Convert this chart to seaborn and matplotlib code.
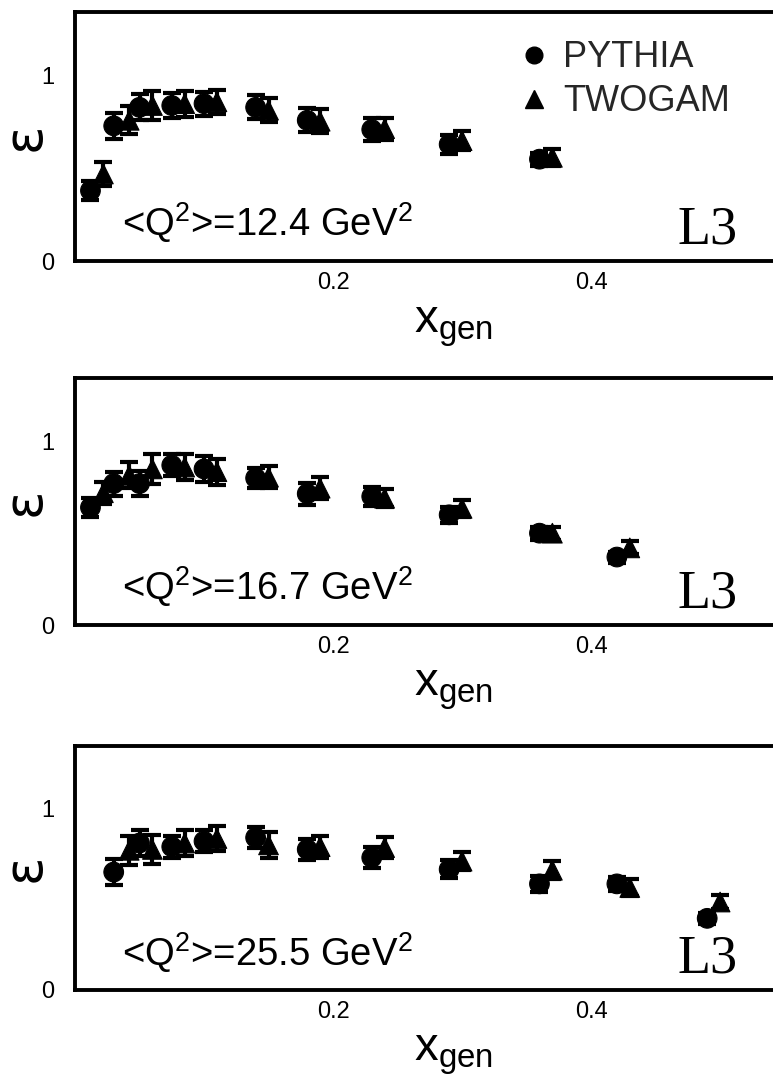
import numpy as np
import pandas as pd
import matplotlib
matplotlib.use("Agg")
import matplotlib.pyplot as plt
from matplotlib.ticker import MultipleLocator, FixedLocator
from matplotlib.lines import Line2D
import seaborn as sns

# ---------------- data ----------------
q2_labels = ["12.4", "16.7", "25.5"]

py_x1 = [0.012, 0.030, 0.050, 0.075, 0.100, 0.140, 0.180, 0.230, 0.290, 0.360]
py_y1 = [0.38, 0.73, 0.83, 0.84, 0.85, 0.83, 0.76, 0.71, 0.63, 0.55]
py_e1 = [0.05, 0.07, 0.07, 0.065, 0.065, 0.065, 0.065, 0.06, 0.05, 0.035]
tg_x1 = [0.022, 0.042, 0.060, 0.085, 0.110, 0.150, 0.190, 0.240, 0.300, 0.370]
tg_y1 = [0.47, 0.76, 0.84, 0.85, 0.86, 0.815, 0.755, 0.715, 0.65, 0.56]
tg_e1 = [0.065, 0.075, 0.08, 0.07, 0.065, 0.065, 0.065, 0.06, 0.05, 0.045]

py_x2 = [0.012, 0.030, 0.050, 0.075, 0.100, 0.140, 0.180, 0.230, 0.290, 0.360, 0.420]
py_y2 = [0.64, 0.77, 0.77, 0.87, 0.85, 0.80, 0.715, 0.70, 0.60, 0.50, 0.37]
py_e2 = [0.05, 0.065, 0.07, 0.06, 0.07, 0.055, 0.06, 0.05, 0.045, 0.035, 0.03]
tg_x2 = [0.022, 0.042, 0.060, 0.085, 0.110, 0.150, 0.190, 0.240, 0.300, 0.370, 0.430]
tg_y2 = [0.72, 0.815, 0.85, 0.86, 0.835, 0.805, 0.745, 0.69, 0.635, 0.50, 0.42]
tg_e2 = [0.06, 0.07, 0.08, 0.07, 0.07, 0.06, 0.06, 0.05, 0.045, 0.035, 0.035]

py_x3 = [0.030, 0.050, 0.075, 0.100, 0.140, 0.180, 0.230, 0.290, 0.360, 0.420, 0.490]
py_y3 = [0.65, 0.81, 0.79, 0.82, 0.84, 0.775, 0.73, 0.665, 0.585, 0.585, 0.395]
py_e3 = [0.07, 0.07, 0.06, 0.06, 0.06, 0.06, 0.06, 0.05, 0.045, 0.04, 0.03]
tg_x3 = [0.042, 0.060, 0.085, 0.110, 0.150, 0.190, 0.240, 0.300, 0.370, 0.430, 0.500]
tg_y3 = [0.77, 0.775, 0.81, 0.835, 0.80, 0.79, 0.785, 0.71, 0.66, 0.565, 0.485]
tg_e3 = [0.08, 0.08, 0.07, 0.07, 0.07, 0.06, 0.06, 0.05, 0.05, 0.045, 0.04]

x_ticks_major = [0.2, 0.4]
x_tick_labels = ["0.2", "0.4"]
y_ticks_major = [0, 1]
y_tick_labels = ["0", "1"]

panels = [
    (py_x1, py_y1, py_e1, tg_x1, tg_y1, tg_e1),
    (py_x2, py_y2, py_e2, tg_x2, tg_y2, tg_e2),
    (py_x3, py_y3, py_e3, tg_x3, tg_y3, tg_e3),
]

# ---------------- style ----------------
sns.set_theme(style="white")
plt.rcParams["font.family"] = ["Liberation Sans", "DejaVu Sans"]
plt.rcParams["mathtext.fontset"] = "custom"
plt.rcParams["mathtext.rm"] = "Liberation Sans"
plt.rcParams["mathtext.it"] = "Liberation Sans"
plt.rcParams["mathtext.bf"] = "Liberation Sans:bold"

W, H = 773, 1091
fig = plt.figure(figsize=(W / 100, H / 100), dpi=100)

# pixel boxes (top, bottom) for each panel
boxes = [(12, 261), (378, 625), (746, 990)]
left_px = 75

for i, ((px, py, pe, tx, ty, te), (top, bot)) in enumerate(zip(panels, boxes)):
    ax = fig.add_axes([left_px / W, 1 - bot / H, (W - left_px) / W, (bot - top) / H])
    df = pd.DataFrame({
        "x": list(px) + list(tx),
        "eps": list(py) + list(ty),
        "err": list(pe) + list(te),
        "gen": ["PYTHIA"] * len(px) + ["TWOGAM"] * len(tx),
    })
    for gen in ["PYTHIA", "TWOGAM"]:
        sub = df[df.gen == gen]
        ax.errorbar(sub.x, sub.eps, yerr=sub.err, fmt="none", ecolor="black",
                    elinewidth=3.0, capsize=6.5, capthick=3.0, zorder=2)
    sns.scatterplot(data=df, x="x", y="eps", style="gen",
                    markers={"PYTHIA": "o", "TWOGAM": "^"},
                    s=200, color="black", edgecolor="black",
                    linewidth=0.8, legend=False, ax=ax, zorder=3)

    ax.set_xlim(0, 0.541)
    ax.set_ylim(0, 1.345)
    ax.xaxis.set_major_locator(FixedLocator(x_ticks_major))
    ax.set_xticklabels(x_tick_labels)
    ax.xaxis.set_minor_locator(MultipleLocator(0.05))
    ax.yaxis.set_major_locator(FixedLocator(y_ticks_major))
    ax.set_yticklabels(y_tick_labels)
    ax.yaxis.set_minor_locator(MultipleLocator(0.2))
    ax.tick_params(which="both", direction="in", color="black", width=2.2,
                   labelsize=17, labelcolor="black")
    ax.tick_params(axis="x", which="major", length=10, pad=8)
    ax.tick_params(axis="x", which="minor", length=5)
    ax.tick_params(axis="y", which="major", length=10, pad=15)
    ax.tick_params(axis="y", which="minor", length=6)
    for side in ["left", "bottom", "top"]:
        ax.spines[side].set_visible(True)
        ax.spines[side].set_linewidth(2.8)
        ax.spines[side].set_color("black")
    ax.spines["right"].set_visible(False)

    ax.set_ylabel("")
    ax.set_xlabel(r"$\mathrm{x}_{\mathrm{gen}}$", fontsize=34, color="black")
    ax.xaxis.set_label_coords((453 - left_px) / (W - left_px), -0.175)

    ax.text(-0.072, 0.5, "ε", transform=ax.transAxes, rotation=90,
            ha="center", va="center", fontsize=38, color="black",
            family=["DejaVu Sans"])

    ax.text(0.068, 0.10, r"<Q$^2$>=" + q2_labels[i] + r" GeV$^2$",
            transform=ax.transAxes, ha="left", va="baseline",
            fontsize=27.5, color="black")
    ax.text(0.95, 0.072, "L3", transform=ax.transAxes, ha="right",
            va="baseline", fontsize=39, color="black",
            family=["Liberation Serif"])

    if i == 0:
        handles = [
            Line2D([], [], marker="o", linestyle="none", color="black", markersize=12),
            Line2D([], [], marker="^", linestyle="none", color="black", markersize=13),
        ]
        ax.legend(handles, ["PYTHIA", "TWOGAM"], loc="upper left",
                  bbox_to_anchor=(0.6375, 0.886), frameon=False, fontsize=26,
                  handlelength=0.8, handletextpad=0.4, labelspacing=0.25,
                  borderpad=0, borderaxespad=0)

fig.savefig("out.png", dpi=100)
